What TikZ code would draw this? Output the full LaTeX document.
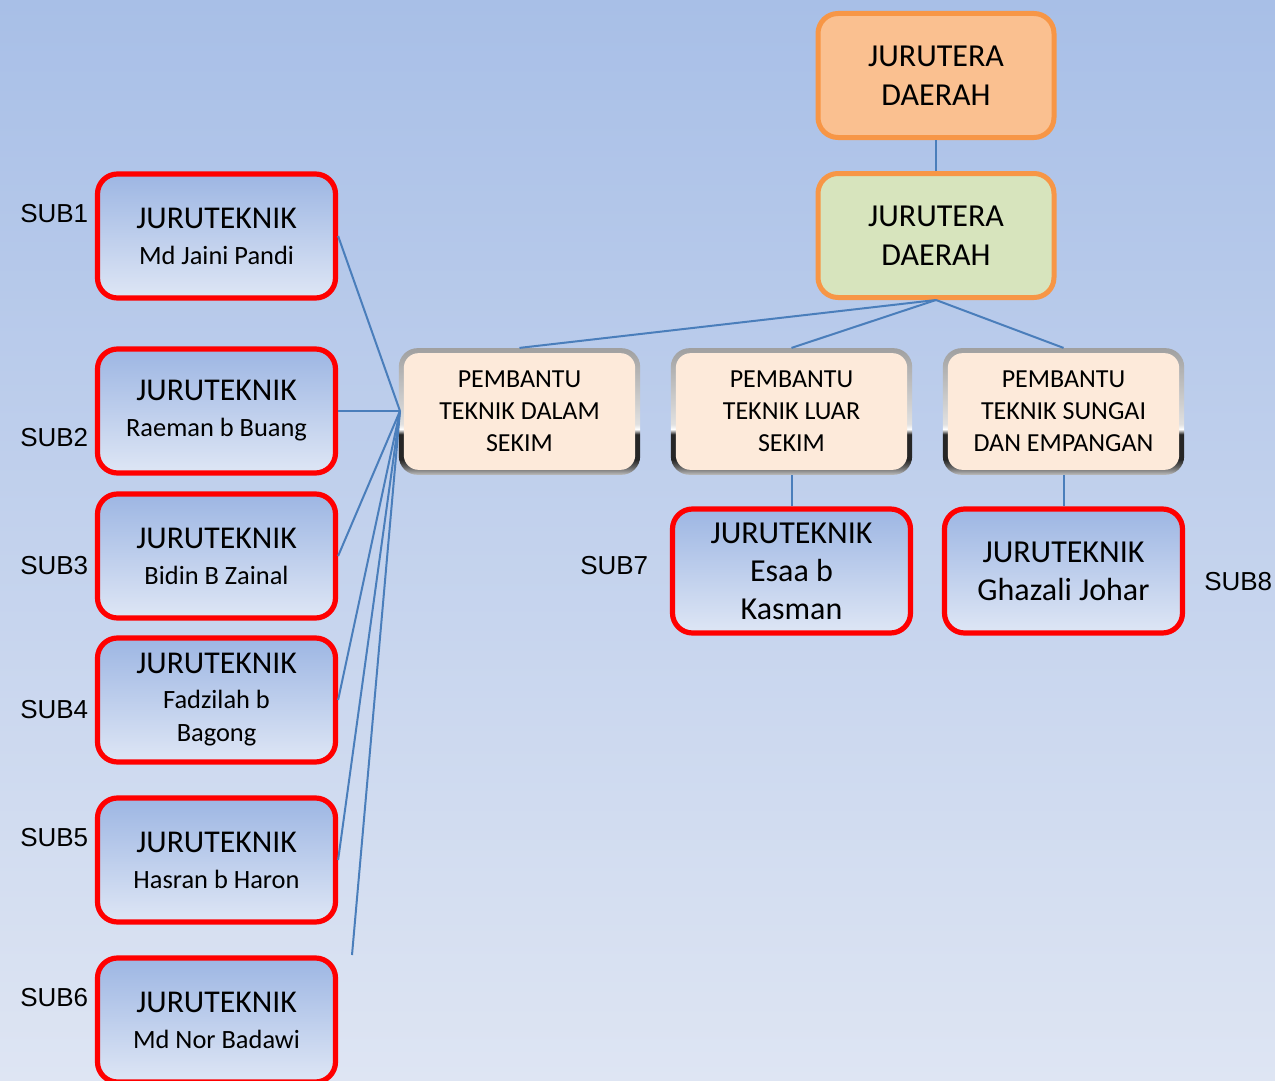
\documentclass[tikz,border=0pt]{standalone}
\usepackage{fontspec}
\setmainfont{Carlito}
\newfontfamily\arialf{Liberation Sans}
\definecolor{bgtop}{HTML}{A8BFE7}
\definecolor{bgbot}{HTML}{DEE5F3}
\definecolor{jdorange}{HTML}{F79646}
\definecolor{jdfillA}{HTML}{FAC090}
\definecolor{jdfillB}{HTML}{D7E4BD}
\definecolor{pemfill}{HTML}{FDEADA}
\definecolor{jttop}{HTML}{9DB6E3}
\definecolor{jtbot}{HTML}{DEE6F5}
\definecolor{linkblue}{HTML}{4A7EBB}
\definecolor{mgBot}{HTML}{BEBEBE}
\definecolor{mgTop}{HTML}{A0A0A0}
\pgfdeclareverticalshading{metalb}{100bp}{color(0bp)=(mgBot); color(25bp)=(mgBot); color(28bp)=(black!60); color(31bp)=(black!85); color(41bp)=(black!85); color(43bp)=(white); color(45bp)=(black!12); color(75bp)=(mgTop); color(100bp)=(mgTop)}
\tikzset{
  jdbox/.style={rounded corners=15pt, draw=jdorange, line width=3.75pt, minimum width=177pt, minimum height=93pt, align=center, font=\fontsize{24}{29}\selectfont},
  pembox/.style={rounded corners=14pt, shade, shading=metalb, minimum width=181pt, minimum height=95pt, align=center, font=\fontsize{19.5}{24}\selectfont,
    path picture={\fill[pemfill, rounded corners=11pt] ([xshift=3.75pt,yshift=-3.75pt]path picture bounding box.north west) rectangle ([xshift=-3.75pt,yshift=3.75pt]path picture bounding box.south east);}},
  jtbox/.style={rounded corners=15pt, draw=red, line width=3.9pt, top color=jttop, bottom color=jtbot, minimum width=178.5pt, minimum height=93pt, align=center, font=\fontsize{23.8}{26}\selectfont},
  link/.style={draw=linkblue, line width=1.5pt},
  sublbl/.style={anchor=west, inner sep=0pt, font=\arialf\fontsize{19.5}{23}\selectfont}
}
\newcommand{\smallnm}[1]{{\fontsize{19.8}{24}\selectfont #1}}
\begin{document}
\begin{tikzpicture}[x=0.75pt,y=-0.75pt]
\useasboundingbox (0,0) rectangle (1275,1081);
\clip (0,0) rectangle (1275,1081);
\shade[top color=bgtop, bottom color=bgbot] (0,0) rectangle (1275,1081);

% top boxes
\node[jdbox, fill=jdfillA] (jd1) at (936,75.5) {JURUTERA\\DAERAH};
\node[jdbox, fill=jdfillB] (jd2) at (936,235.5) {JURUTERA\\DAERAH};

% pembantu
\node[pembox] (pd) at (519.5,411.5) {PEMBANTU\\TEKNIK DALAM\\SEKIM};
\node[pembox] (pl) at (791.5,411.5) {PEMBANTU\\TEKNIK LUAR\\SEKIM};
\node[pembox] (ps) at (1063.5,411.5) {PEMBANTU\\TEKNIK SUNGAI\\DAN EMPANGAN};

% left juruteknik
\node[jtbox] (s1) at (216.5,236) {JURUTEKNIK\\[1pt]\smallnm{Md Jaini Pandi}};
\node[jtbox] (s2) at (216.5,411) {JURUTEKNIK\\[1pt]\smallnm{Raeman b Buang}};
\node[jtbox] (s3) at (216.5,556) {JURUTEKNIK\\[1pt]\smallnm{Bidin B Zainal}};
\node[jtbox] (s4) at (216.5,700) {JURUTEKNIK\\[0pt]\smallnm{Fadzilah b}\\[-1pt]\smallnm{Bagong}};
\node[jtbox] (s5) at (216.5,860) {JURUTEKNIK\\[1pt]\smallnm{Hasran b Haron}};
\node[jtbox] (s6) at (216.5,1020) {JURUTEKNIK\\[1pt]\smallnm{Md Nor Badawi}};

% bottom right juruteknik
\node[jtbox, font=\fontsize{24}{28.5}\selectfont] (s7) at (791.5,571) {JURUTEKNIK\\Esaa b\\Kasman};
\node[jtbox, font=\fontsize{24}{28.5}\selectfont] (s8) at (1063.5,571) {JURUTEKNIK\\Ghazali Johar};

% labels
\node[sublbl] (l1) at (20,214) {SUB1};
\node[sublbl] (l2) at (20,438) {SUB2};
\node[sublbl] (l3) at (20,566) {SUB3};
\node[sublbl] (l4) at (20,710) {SUB4};
\node[sublbl] (l5) at (20,838) {SUB5};
\node[sublbl] (l6) at (20,998) {SUB6};
\node[sublbl] (l7) at (580,566) {SUB7};
\node[sublbl] (l8) at (1204,582) {SUB8};

% connectors
\coordinate (s6end) at (352,955);
\coordinate (hub) at (400,411);
\draw[link] (jd1.south) -- (jd2.north);
\draw[link] (jd2.south) -- (pd.north);
\draw[link] (jd2.south) -- (pl.north);
\draw[link] (jd2.south) -- (ps.north);
\draw[link] (pl.south) -- (s7.north);
\draw[link] (ps.south) -- (s8.north);
\draw[link] (hub) -- (s1.east);
\draw[link] (hub) -- (s2.east);
\draw[link] (hub) -- (s3.east);
\draw[link] (hub) -- (s4.east);
\draw[link] (hub) -- (s5.east);
\draw[link] (hub) -- (s6end);
\end{tikzpicture}
\end{document}
